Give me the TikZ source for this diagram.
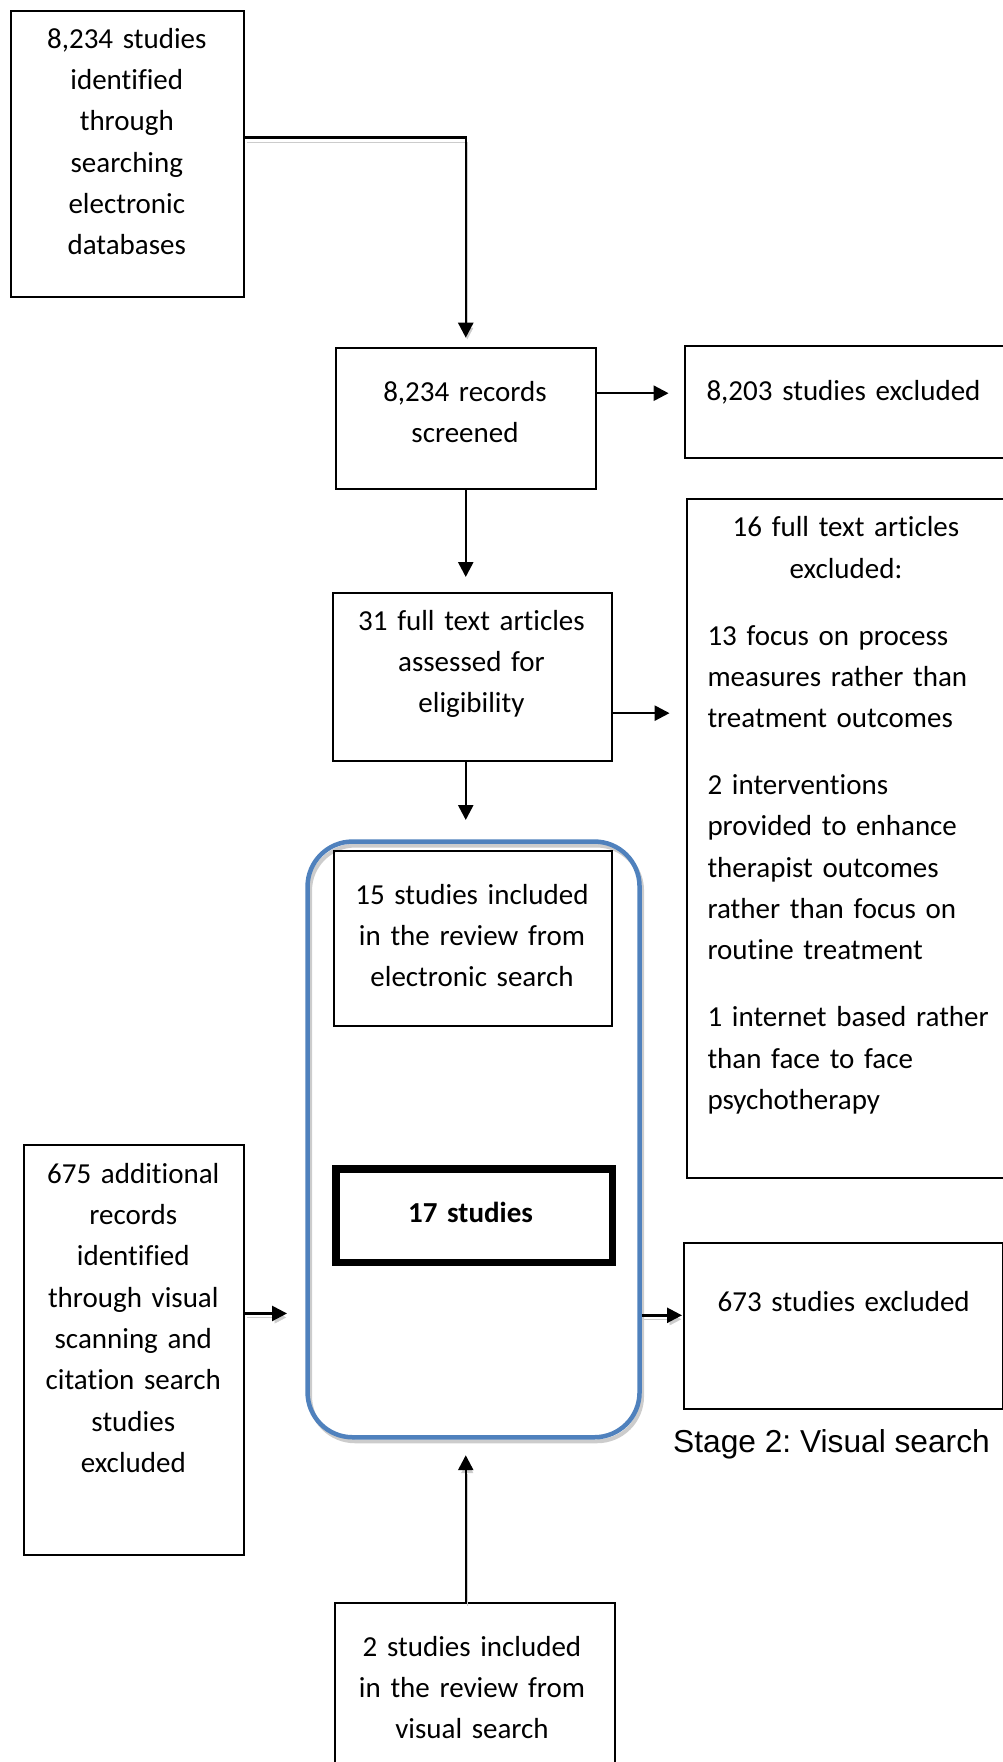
\documentclass[tikz,border=0pt]{standalone}
\usepackage{fontspec}
\setmainfont{Carlito}[Ligatures=NoCommon]
\newfontfamily\arialfont{Liberation Sans}
\usetikzlibrary{arrows.meta}
\definecolor{frameblue}{RGB}{79,129,189}
\frenchspacing
\begin{document}
\begin{tikzpicture}[x=1pt,y=-1pt,
  box/.style={draw, line width=2pt, inner sep=0pt, anchor=north west},
  txt/.style={font=\fontsize{29}{41.3}\selectfont, inner sep=0pt, anchor=base, align=center, text width=300pt},
  arr/.style={line width=2.5pt, -{Triangle[width=15pt,length=15pt]}},
  dropsh/.style={preaction={draw=black!20, transform canvas={shift={(1.5pt,-4pt)}}}}]
\useasboundingbox (0,0) rectangle (1003,1762);

% boxes
\node[box, minimum width=233pt, minimum height=286pt] (a) at (10.3,10) {};
\node[box, minimum width=260.5pt, minimum height=141pt] (b) at (334.5,346.7) {};
\node[box, minimum width=340pt, minimum height=111.7pt] (c) at (684,345) {};
\node[box, minimum width=279pt, minimum height=167.7pt] (d) at (332,592.3) {};
\node[box, minimum width=340pt, minimum height=678.4pt] (e) at (685.7,498.3) {};
\node[box, draw=frameblue, line width=4.5pt, rounded corners=45pt,
      minimum width=332pt, minimum height=595.7pt,
      preaction={draw=black!20, line width=4pt, transform canvas={shift={(2.5pt,-4pt)}}}] (f) at (305.3,839.3) {};
\node[box, minimum width=277.7pt, minimum height=174.7pt] (g) at (333.3,850.3) {};
\node[box, line width=7.5pt, minimum width=276.7pt, minimum height=93.8pt] (h) at (332,1165) {};
\node[box, minimum width=220pt, minimum height=409.7pt] (i) at (23.3,1144.3) {};
\node[box, minimum width=319pt, minimum height=166pt] (j) at (683,1242) {};
\node[box, minimum width=280pt, minimum height=220pt] (k) at (333.7,1601.7) {};

% texts
\node[txt] (at) at (126.8,48.3) {8,234 studies\\identified\\through\\searching\\electronic\\databases};
\node[txt] (bt) at (465,401) {8,234 records\\screened};
\node[txt] (ct) at (843.5,400) {8,203 studies excluded};
\node[txt] (dt) at (471.5,630) {31 full text articles\\assessed for\\eligibility};
\node[txt] (et) at (846,536.7) {16 full text articles\\excluded:};
\node[txt, align=left, anchor=base west, text width=290pt] (eb) at (707.3,645)
  {13 focus on process\\measures rather than\\treatment outcomes\\[25.7pt]
   2 interventions\\provided to enhance\\therapist outcomes\\rather than focus on\\routine treatment\\[25.7pt]
   1 internet based rather\\than face to face\\psychotherapy};
\node[txt] (gt) at (472,904.2) {15 studies included\\in the review from\\electronic search};
\node[txt, font=\fontsize{29}{41.3}\selectfont\bfseries] (ht) at (470.5,1222) {17 studies};
\node[txt] (it) at (133.3,1183.3) {675 additional\\records\\identified\\through visual\\scanning and\\citation search\\studies\\excluded};
\node[txt] (jt) at (843.7,1311.7) {673 studies excluded};
\node[inner sep=0pt, anchor=base west, font=\arialfont\fontsize{31.7}{38}\selectfont] (stage) at (673,1452) {Stage 2: Visual search};
\node[txt] (kt) at (472,1656) {2 studies included\\in the review from\\visual search};

% connectors
\coordinate (ab) at ([yshift=16.3pt]a.east);
\draw[arr, dropsh] (ab) -| ([yshift=9pt]b.north);
\coordinate (bc) at ([yshift=25pt]b.east);
\draw[arr, shorten >=15.4pt] (bc) -- (bc -| c.west);
\draw[arr, shorten >=15.3pt] (b.south) -- (b.south |- d.north);
\coordinate (de) at ([yshift=-36pt]d.east);
\draw[arr, shorten >=16.1pt] (de) -- (de -| e.west);
\draw[arr, shorten >=19.3pt] (b.south |- d.south) -- (b.south |- f.north);
\coordinate (if) at ([yshift=36.7pt]i.east);
\draw[arr, dropsh, shorten >=18.3pt] (if) -- (if -| f.west);
\coordinate (fj) at ([yshift=-175.9pt]f.east);
\draw[arr, dropsh, shorten >=1pt] (fj) -- (fj -| j.west);
\draw[arr, dropsh, shorten >=15.7pt] (b.south |- k.north) -- (b.south |- f.south);
\end{tikzpicture}
\end{document}
